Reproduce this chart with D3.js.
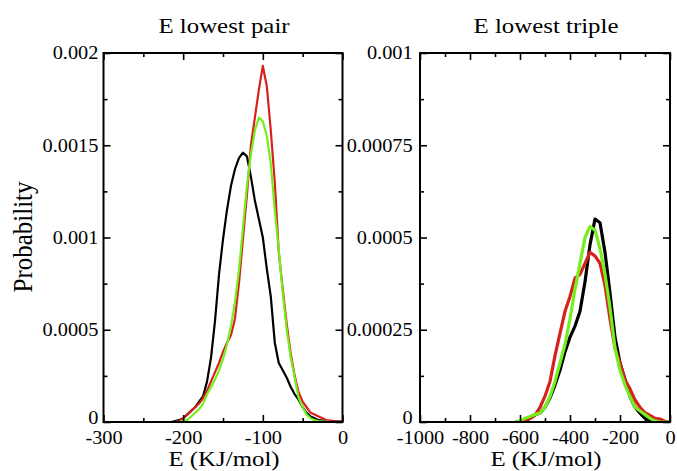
<!DOCTYPE html>
<html>
<head>
<meta charset="utf-8">
<script src="https://cdn.jsdelivr.net/npm/d3@7"></script>
<style>
  html, body { margin: 0; padding: 0; background: #fff; }
  svg { display: block; }
  text { font-family: "Times New Roman", Times, "Liberation Serif", serif; fill: #000; }
</style>
</head>
<body>
<svg id="chart" width="677" height="471"></svg>
<script>
// ---------- DATA ----------
const pairE = [-215,-210,-205,-200,-195,-190,-185,-180,-175,-170,-165,-160,-155,-150,-145,-140,-135,-130,-125,-120,-115,-110,-105,-100,-95,-90,-85,-80,-75,-70,-65,-60,-55,-50,-45,-40,-35,-30,-25,-20,-15,-10,-5,0];
const pairBlack = [0,0.000005,0.00001,0.00002,0.00004,0.00006,0.00008,0.00011,0.00014,0.00022,0.00035,0.00055,0.0008,0.00099,0.00115,0.00128,0.00137,0.00143,0.00146,0.00144,0.00133,0.0012,0.0011,0.001,0.00083,0.00068,0.00043,0.00032,0.00028,0.00024,0.00019,0.00015,0.00012,0.00008,0.00005,0.00003,0.00002,0.00001,0.000008,0.000005,0.000004,0.000003,0.000002,0.000002];
const pairRed = [0,0,0.000005,0.00002,0.00004,0.00006,0.00008,0.0001,0.00013,0.00017,0.00022,0.00027,0.00032,0.00038,0.00043,0.00047,0.00056,0.00075,0.00099,0.00123,0.0015,0.00165,0.0018,0.00193,0.00182,0.00158,0.0013,0.00092,0.00072,0.00053,0.00037,0.00025,0.00016,0.00011,0.00008,0.00005,0.00004,0.00003,0.00002,0.00001,0.000008,0.000005,0.000004,0.000003];
const pairGreen = [0,0,0,0.000005,0.00001,0.00003,0.00005,0.00007,0.0001,0.00015,0.00019,0.00023,0.00028,0.00034,0.00042,0.00052,0.00065,0.00082,0.00105,0.00128,0.00145,0.00158,0.00165,0.00163,0.00155,0.0014,0.00115,0.00093,0.0007,0.0005,0.00035,0.00024,0.00013,0.00008,0.00004,0.00002,0.00001,0.000005,0.000003,0.000002,0,0,0,0];

const tripleE = [-620,-600,-580,-560,-540,-520,-500,-480,-460,-440,-420,-400,-380,-360,-340,-320,-300,-280,-260,-240,-220,-200,-180,-160,-140,-120,-100,-80,-60,-40,-20,0];
const tripleBlack = [0,0,0.000003,0.00001,0.00002,0.000024,0.00004,0.000065,0.0001,0.00014,0.00019,0.00023,0.00026,0.0003,0.00038,0.00048,0.00055,0.00054,0.00046,0.00035,0.00023,0.00016,0.000115,0.000069,0.00004,0.000024,0.00001,0.000003,0,0,0,0];
const tripleRed = [0,0,0.000005,0.00001,0.000018,0.00004,0.00007,0.00011,0.00018,0.00024,0.0003,0.00034,0.00039,0.0004,0.00043,0.00046,0.00045,0.00043,0.00037,0.00028,0.0002,0.00016,0.000114,0.00009,0.00006,0.00004,0.000025,0.000018,0.00001,0.000008,0.000002,0];
const tripleGreen = [0,0.000003,0.00001,0.000015,0.00002,0.000024,0.00004,0.000069,0.00011,0.00016,0.00021,0.00028,0.00036,0.00043,0.0005,0.00053,0.00052,0.00047,0.0004,0.00031,0.0002,0.00014,0.0001,0.000069,0.00004,0.00003,0.00002,0.00001,0.000003,0,0,0];

const pairXTicks = [-300,-200,-100,0];
const pairXMinor = [-250,-150,-50];
const pairYTicks = [0,0.0005,0.001,0.0015,0.002];
const pairYLabels = ["0","0.0005","0.001","0.0015","0.002"];
const pairYMinor = [0.00025,0.00075,0.00125,0.00175];

const tripleXTicks = [-1000,-800,-600,-400,-200,0];
const tripleXMinor = [-900,-700,-500,-300,-100];
const tripleYTicks = [0,0.00025,0.0005,0.00075,0.001];
const tripleYLabels = ["0","0.00025","0.0005","0.00075","0.001"];
const tripleYMinor = [0.000125,0.000375,0.000625,0.000875];

const titles = ["E lowest pair","E lowest triple"];
const xLabel = "E (KJ/mol)";
const yLabel = "Probability";
const seriesColors = ["#000000","#d8201e","#74ee1c"];

// ---------- DRAW ----------
const svg = d3.select("#chart");
const SX = 1.13;
const FONT = '"Times New Roman", Times, "Liberation Serif", serif';
const plotTop = 53, plotBottom = 422;

const panels = [
  {x0:103.5, x1:342.5, dom:[-300,0], ymax:0.002, E:pairE, series:[pairBlack,pairRed,pairGreen],
   xt:pairXTicks, xm:pairXMinor, yt:pairYTicks, yl:pairYLabels, ym:pairYMinor, title:titles[0], pad:4.5, sw:2.2},
  {x0:420, x1:670, dom:[-1000,0], ymax:0.001, E:tripleE, series:[tripleBlack,tripleRed,tripleGreen],
   xt:tripleXTicks, xm:tripleXMinor, yt:tripleYTicks, yl:tripleYLabels, ym:tripleYMinor, title:titles[1], pad:6.5, sw:3.2}
];

panels.forEach((p, pi) => {
  const x = d3.scaleLinear().domain(p.dom).range([p.x0, p.x1]);
  const y = d3.scaleLinear().domain([0, p.ymax]).range([plotBottom, plotTop]);
  const g = svg.append("g");

  const clipId = "clip" + pi;
  svg.append("clipPath").attr("id", clipId).append("rect")
    .attr("x", p.x0).attr("y", plotTop).attr("width", p.x1 - p.x0).attr("height", plotBottom - plotTop);

  // curves
  const line = d3.line().x((d, i) => x(p.E[i])).y(d => y(d));
  p.series.forEach((s, si) => {
    g.append("path").datum(s)
      .attr("clip-path", `url(#${clipId})`)
      .attr("d", line)
      .attr("fill", "none")
      .attr("stroke", seriesColors[si])
      .attr("stroke-width", p.sw)
      .attr("stroke-linejoin", "round");
  });

  // frame
  g.append("rect").attr("x", p.x0).attr("y", plotTop)
    .attr("width", p.x1 - p.x0).attr("height", plotBottom - plotTop)
    .attr("fill", "none").attr("stroke", "#000").attr("stroke-width", 2);

  const styleAxis = sel => { sel.attr("font-family", FONT); sel.select(".domain").remove(); sel.selectAll("line").attr("stroke", "#000").attr("stroke-width", 1.6); };

  // bottom major with labels
  const bx = g.append("g").attr("transform", `translate(0,${plotBottom})`)
    .call(d3.axisBottom(x).tickValues(p.xt).tickSize(-7).tickPadding(9).tickFormat(d => String(d)));
  styleAxis(bx);
  bx.selectAll("text").attr("font-size", 18)
    .attr("transform", `scale(${SX},1)`);
  g.append("g").attr("transform", `translate(0,${plotBottom})`)
    .call(d3.axisBottom(x).tickValues(p.xm).tickSize(-4).tickFormat("")).call(styleAxis);
  // top
  g.append("g").attr("transform", `translate(0,${plotTop})`)
    .call(d3.axisTop(x).tickValues(p.xt).tickSize(-7).tickFormat("")).call(styleAxis);
  g.append("g").attr("transform", `translate(0,${plotTop})`)
    .call(d3.axisTop(x).tickValues(p.xm).tickSize(-4).tickFormat("")).call(styleAxis);

  // left with labels
  const ly = g.append("g").attr("transform", `translate(${p.x0},0)`)
    .call(d3.axisLeft(y).tickValues(p.yt).tickSize(-7).tickPadding(p.pad).tickFormat((d, i) => p.yl[i]));
  styleAxis(ly);
  ly.selectAll("text").attr("font-size", 18)
    .attr("transform", (d, i) => i === 0 ? `translate(0,-4) scale(${SX},1)` : `scale(${SX},1)`);
  g.append("g").attr("transform", `translate(${p.x0},0)`)
    .call(d3.axisLeft(y).tickValues(p.ym).tickSize(-4).tickFormat("")).call(styleAxis);
  // right
  g.append("g").attr("transform", `translate(${p.x1},0)`)
    .call(d3.axisRight(y).tickValues(p.yt).tickSize(-7).tickFormat("")).call(styleAxis);
  g.append("g").attr("transform", `translate(${p.x1},0)`)
    .call(d3.axisRight(y).tickValues(p.ym).tickSize(-4).tickFormat("")).call(styleAxis);

  const cx = (p.x0 + p.x1) / 2 + 1;
  // title
  g.append("text").attr("transform", `translate(${cx},33) scale(${SX},1)`)
    .attr("text-anchor", "middle").attr("font-size", 22).text(p.title);
  // x label
  g.append("text").attr("transform", `translate(${cx},466) scale(${SX},1)`)
    .attr("text-anchor", "middle").attr("font-size", 22).text(xLabel);
});

// y label
svg.append("text").attr("transform", `translate(32,237) scale(${SX},1) rotate(-90)`)
  .attr("text-anchor", "middle").attr("font-size", 25).text(yLabel);
</script>
</body>
</html>
